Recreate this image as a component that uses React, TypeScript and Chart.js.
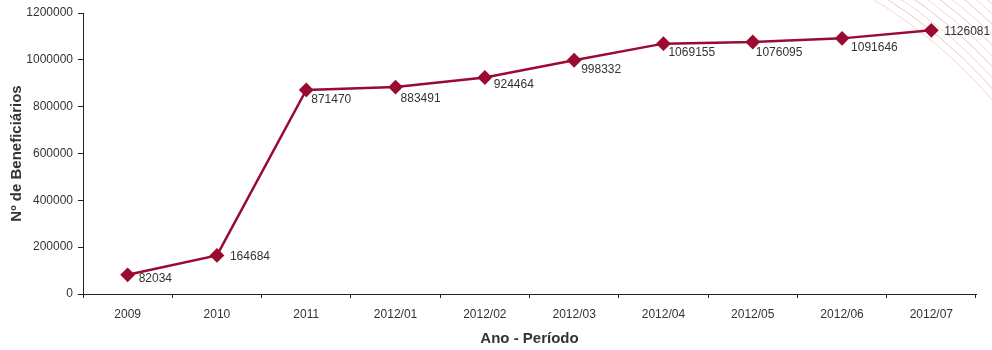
import React, { useEffect, useRef } from "react";
import { Chart, registerables } from "chart.js";

Chart.register(...registerables);

const periods = [
  "2009",
  "2010",
  "2011",
  "2012/01",
  "2012/02",
  "2012/03",
  "2012/04",
  "2012/05",
  "2012/06",
  "2012/07",
];

const beneficiaries = [
  82034, 164684, 871470, 883491, 924464, 998332, 1069155, 1076095, 1091646,
  1126081,
];

const yTicks = [0, 200000, 400000, 600000, 800000, 1000000, 1200000];

const LINE_COLOR = "#9b0a30";
const TEXT_COLOR = "#333333";
const FONT_FAMILY = "'Liberation Sans', Arial, sans-serif";

// Label placement relative to each point (dx, dy in pixels)
const labelDx = [11, 13, 5, 5, 9, 7, 5, 3, 9, 13];
const labelDy = [4, 1, 10, 12, 7, 9, 9, 11, 9, 1];

const cornerArcs = {
  id: "cornerArcs",
  beforeDraw(chart: Chart) {
    const { ctx } = chart;
    ctx.save();
    const cx = 620;
    const cy = 420;
    for (let i = 0; i < 10; i++) {
      const r = 491 + i * 7.5;
      ctx.beginPath();
      ctx.arc(cx, cy, r, -1.25, -0.25);
      ctx.strokeStyle =
        i % 2 === 0 ? "rgba(210, 90, 80, 0.25)" : "rgba(210, 90, 80, 0.35)";
      ctx.lineWidth = 1;
      ctx.stroke();
    }
    ctx.restore();
  },
};

const valueLabels = {
  id: "valueLabels",
  afterDatasetsDraw(chart: Chart) {
    const { ctx } = chart;
    const meta = chart.getDatasetMeta(0);
    const data = chart.data.datasets[0].data as number[];
    ctx.save();
    ctx.font = `12px ${FONT_FAMILY}`;
    ctx.fillStyle = TEXT_COLOR;
    ctx.textAlign = "left";
    ctx.textBaseline = "middle";
    meta.data.forEach((pt, i) => {
      ctx.fillText(String(data[i]), pt.x + labelDx[i], pt.y + labelDy[i]);
    });
    ctx.restore();
  },
};

export default function App() {
  const canvasRef = useRef<HTMLCanvasElement | null>(null);

  useEffect(() => {
    if (!canvasRef.current) return;
    const chart = new Chart(canvasRef.current, {
      type: "line",
      data: {
        labels: periods,
        datasets: [
          {
            data: beneficiaries,
            borderColor: LINE_COLOR,
            backgroundColor: LINE_COLOR,
            borderWidth: 2.5,
            pointStyle: "rectRot",
            pointRadius: 6,
            pointBorderWidth: 2,
            pointBackgroundColor: LINE_COLOR,
            pointBorderColor: LINE_COLOR,
            tension: 0,
            fill: false,
          },
        ],
      },
      options: {
        animation: false,
        responsive: true,
        maintainAspectRatio: false,
        layout: { padding: { top: 13, right: 16, bottom: 0, left: 0 } },
        plugins: {
          legend: { display: false },
          tooltip: { enabled: false },
        },
        scales: {
          x: {
            type: "category",
            offset: true,
            grid: {
              offset: true,
              drawOnChartArea: false,
              tickLength: 4,
              color: "#222",
            },
            border: { color: "#222", width: 1 },
            ticks: {
              color: TEXT_COLOR,
              font: { family: FONT_FAMILY, size: 12 },
              padding: 9,
              maxRotation: 0,
              autoSkip: false,
            },
            title: {
              display: true,
              text: "Ano - Período",
              color: TEXT_COLOR,
              font: { family: FONT_FAMILY, size: 15, weight: "bold" },
              padding: { top: 0, bottom: 2 },
            },
            afterFit(scale: any) {
              scale.height = 56;
            },
          },
          y: {
            min: 0,
            max: 1200000,
            afterBuildTicks(scale: any) {
              scale.ticks = yTicks.map((v) => ({ value: v }));
            },
            grid: {
              drawOnChartArea: false,
              tickLength: 5,
              color: "#222",
            },
            border: { color: "#222", width: 1 },
            ticks: {
              color: TEXT_COLOR,
              font: { family: FONT_FAMILY, size: 12 },
              padding: 5,
              callback: (v: any) => String(v),
            },
            title: {
              display: true,
              text: "Nº de Beneficiários",
              color: TEXT_COLOR,
              font: { family: FONT_FAMILY, size: 15, weight: "bold" },
              padding: { top: 8, bottom: 0 },
            },
            afterFit(scale: any) {
              scale.width = 83;
            },
          },
        },
      },
      plugins: [cornerArcs, valueLabels],
    });
    return () => chart.destroy();
  }, []);

  return (
    <div
      style={{
        position: "absolute",
        left: 0,
        top: 0,
        width: 992,
        height: 350,
        background: "#ffffff",
      }}
    >
      <canvas ref={canvasRef} />
    </div>
  );
}
